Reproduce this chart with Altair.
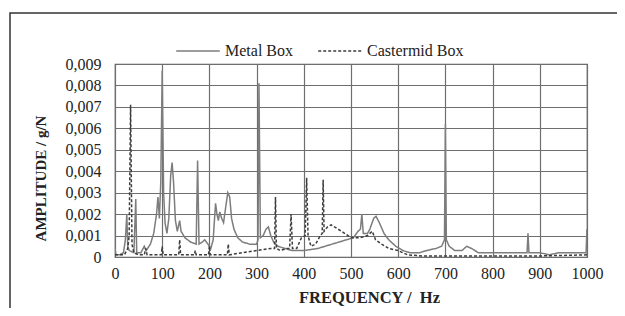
import altair as alt
import pandas as pd

series_names = ["Metal Box", "Castermid Box"]

metal_freq = [0, 2, 10, 18, 22, 25, 27, 30, 40, 44, 46, 55, 62, 66, 75, 82, 88, 91, 94, 97,
              100, 103, 106, 110, 114, 118, 121, 124, 128, 132, 137, 140, 148, 160, 172, 175,
              178, 185, 190, 197, 203, 208, 213, 216, 219, 222, 226, 230, 235, 239, 243, 247,
              252, 260, 270, 285, 300, 303, 305, 308, 314, 320, 325, 330, 336, 345, 360, 375,
              400, 430, 460, 490, 505, 515, 520, 523, 526, 535, 540, 548, 553, 560, 570, 580,
              595, 610, 625, 645, 660, 680, 692, 698, 700, 702, 708, 720, 735, 745, 755, 770,
              800, 830, 850, 873, 875, 877, 900, 920, 940, 960, 980, 998, 1000]
metal_amp = [0.0004, 0.0001, 0.0001, 0.0002, 0.0008, 0.0020, 0.0005, 0.0003, 0.0002, 0.0027,
             0.0002, 0.0002, 0.0005, 0.0003, 0.0006, 0.0011, 0.0020, 0.0028, 0.0018, 0.0035,
             0.0087, 0.0030, 0.0016, 0.0011, 0.0018, 0.0038, 0.0044, 0.0035, 0.0017, 0.0012,
             0.0017, 0.0012, 0.0009, 0.0007, 0.0006, 0.0045, 0.0006, 0.0007, 0.0008, 0.0006,
             0.0004, 0.0008, 0.0025, 0.0020, 0.0017, 0.0021, 0.0018, 0.0016, 0.0024, 0.0030,
             0.0028, 0.0018, 0.0013, 0.0009, 0.0007, 0.0006, 0.0006, 0.0008, 0.0081, 0.0009,
             0.0010, 0.0013, 0.0014, 0.0010, 0.0007, 0.0005, 0.0004, 0.0003, 0.0003, 0.0004,
             0.0006, 0.0008, 0.0009, 0.0012, 0.0013, 0.0020, 0.0011, 0.0011, 0.0013, 0.0018,
             0.0019, 0.0016, 0.0011, 0.0008, 0.0005, 0.0003, 0.0002, 0.0002, 0.0003, 0.0004,
             0.0005, 0.0008, 0.0062, 0.0008, 0.0005, 0.0003, 0.0003, 0.0005, 0.0004, 0.0002,
             0.0002, 0.0002, 0.0002, 0.0002, 0.0011, 0.0002, 0.0002, 0.0001, 0.0002, 0.0002,
             0.0002, 0.0002, 0.0013]

cast_freq = [0, 20, 27, 30, 33, 36, 40, 50, 62, 65, 68, 98, 100, 102, 135, 137, 139, 168, 170,
             172, 198, 200, 202, 238, 240, 242, 270, 300, 330, 338, 340, 342, 350, 365, 370,
             373, 376, 385, 395, 403, 406, 409, 415, 425, 435, 439, 441, 443, 450, 458, 465,
             480, 500, 520, 535, 545, 552, 565, 580, 600, 620, 650, 700, 800, 900, 1000]
cast_amp = [0.0001, 0.0001, 0.0004, 0.0010, 0.0071, 0.0006, 0.0002, 0.0001, 0.0001, 0.0004,
            0.0001, 0.0001, 0.0005, 0.0001, 0.0001, 0.0008, 0.0001, 0.0001, 0.0003, 0.0001,
            0.0001, 0.0005, 0.0001, 0.0001, 0.0006, 0.0001, 0.0002, 0.0003, 0.0004, 0.0004,
            0.0028, 0.0004, 0.0003, 0.0004, 0.0004, 0.0020, 0.0004, 0.0004, 0.0009, 0.0010,
            0.0037, 0.0010, 0.0005, 0.0006, 0.0010, 0.0011, 0.0036, 0.0012, 0.0014, 0.0015,
            0.0014, 0.0012, 0.0009, 0.0009, 0.0010, 0.0012, 0.0008, 0.0006, 0.0004, 0.0003,
            0.0001, 0.00005, 0.00005, 0.00005, 0.00005, 0.0001]

x_ticks = [0, 100, 200, 300, 400, 500, 600, 700, 800, 900, 1000]
y_ticks = [0, 0.001, 0.002, 0.003, 0.004, 0.005, 0.006, 0.007, 0.008, 0.009]

df = pd.concat([
    pd.DataFrame({"freq": metal_freq, "amp": metal_amp, "series": series_names[0], "order": range(len(metal_freq))}),
    pd.DataFrame({"freq": cast_freq, "amp": cast_amp, "series": series_names[1], "order": range(len(cast_freq))}),
])

FONT = "Liberation Serif"

legend_cfg = dict(title=None, orient="none", legendX=60, legendY=-36,
                  direction="horizontal", columns=2, symbolType="stroke",
                  symbolSize=1900, symbolStrokeWidth=1.5, labelFontSize=16,
                  labelFont=FONT, labelColor="#222", columnPadding=22, labelOffset=4)

lines = alt.Chart(df).mark_line(strokeWidth=1.5, clip=True).encode(
    x=alt.X("freq:Q", scale=alt.Scale(domain=[0, 1000], nice=False),
            axis=alt.Axis(values=x_ticks, title="FREQUENCY / \u00a0Hz", grid=True, ticks=False,
                          labelPadding=8, domain=False, labelExpr="format(datum.value, 'd')",
                          labelFlush=False, labelOverlap=False,
                          gridColor="#6e6e6e", gridWidth=1.2, gridOpacity=1,
                          titleX=254, titleY=40, titleFontSize=16.5,
                          titleBaseline="middle", titleAnchor="start", titleAlign="center")),
    y=alt.Y("amp:Q", scale=alt.Scale(domain=[0, 0.009], nice=False),
            axis=alt.Axis(values=y_ticks, title="AMPLITUDE / g/N", grid=True, ticks=False,
                          labelPadding=14, domain=False, labelFlush=False, labelOverlap=False,
                          gridColor="#6e6e6e", gridWidth=1.2, gridOpacity=1,
                          labelExpr="datum.value == 0 ? '0' : replace(format(datum.value, '.3f'), '.', ',')",
                          titleX=-75, titleY=114, titleBaseline="middle", titleAlign="center",
                          titleAnchor="start")),
    color=alt.Color("series:N", scale=alt.Scale(domain=series_names, range=["#7d7d7d", "#3c3c3c"]),
                    legend=alt.Legend(**legend_cfg)),
    strokeDash=alt.StrokeDash("series:N", scale=alt.Scale(domain=series_names, range=[[1, 0], [3, 2]]),
                              legend=alt.Legend(**legend_cfg)),
    order="order:Q",
)

frame = alt.Chart(pd.DataFrame({"a": [0]})).mark_rect(fillOpacity=0, fill="white", stroke="#333", strokeWidth=1.5).encode(
    x=alt.value(-105), x2=alt.value(540), y=alt.value(-51), y2=alt.value(270)
)

chart = alt.layer(lines, frame).properties(
    width=472, height=193,
    autosize=alt.AutoSizeParams(type="none"),
    padding={"left": 107, "top": 56, "right": 30, "bottom": 51},
).configure(background="white").configure_view(stroke="#555", strokeWidth=1.2).configure_axis(
    labelFont=FONT, labelFontSize=16, labelColor="#222",
    titleFont=FONT, titleFontSize=15, titleFontWeight="bold", titleColor="#222",
)

chart.save("out.html", embed_options={"renderer": "svg", "actions": False})
